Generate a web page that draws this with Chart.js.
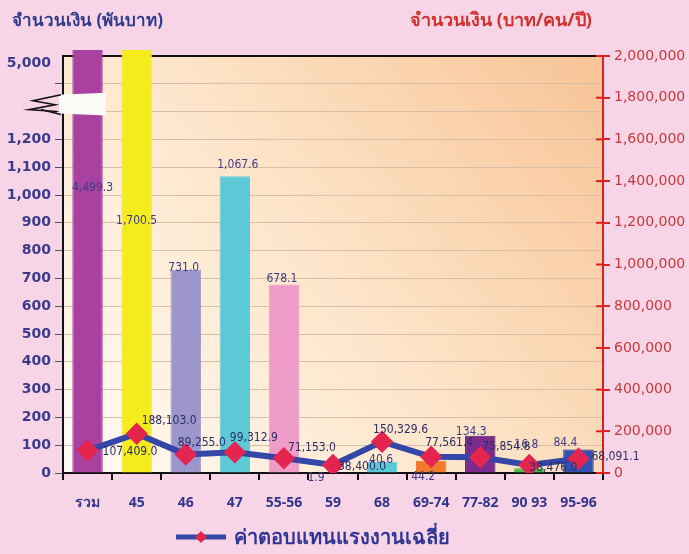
<!DOCTYPE html>
<html>
<head>
<meta charset="utf-8">
<script src="https://cdn.jsdelivr.net/npm/chart.js@4"></script>
<style>
  html, body { margin: 0; padding: 0; background: #f8d5e6; }
  #wrap { width: 689px; height: 554px; }
</style>
</head>
<body>
<div id="wrap"><canvas id="myChart" width="689" height="554"></canvas></div>
<script>
// ข้อมูล
const categories = ["รวม", "45", "46", "47", "55-56", "59", "68", "69-74", "77-82", "90 93", "95-96"];
const amountThousandBaht = [4499.3, 1700.5, 731.0, 1067.6, 678.1, 1.9, 40.6, 44.2, 134.3, 16.8, 84.4];
const avgWagePerPerson = [107409.0, 188103.0, 89255.0, 99312.9, 71153.0, 38400.0, 150329.6, 77561.4, 75854.8, 38476.0, 68091.1];
const leftTicks = [0, 100, 200, 300, 400, 500, 600, 700, 800, 900, 1000, 1100, 1200];
const leftTopTickLabel = "5,000";
const rightTicks = [0, 200000, 400000, 600000, 800000, 1000000, 1200000, 1400000, 1600000, 1800000, 2000000];

const barColors = ["#a8419f", "#f4ec1c", "#9d96cd", "#5ccad6", "#ef9cc8", "#e0e0e0", "#5ccad6", "#f27a2c", "#7b2c8e", "#4cb84a", "#3152b2"];
const barBorders = ["#a8419f", "#f4ec1c", "#9d96cd", "#5ccad6", "#ef9cc8", "#e0e0e0", "#5ccad6", "#f27a2c", "#4a1f66", "#4cb84a", "#1f2f7a"];

// axis break: anything above 1,400 is drawn up to the top of the (broken) axis
const BREAK_AT = 1400;
const TOP_SLOT = 1475;
const barDrawValues = amountThousandBaht.map(v => v > BREAK_AT ? 1522 : v);

// label offsets (style only)
const barLabelOffsets = [[5, 138], [0, 171], [-2, -2], [3, -11], [-2, -6], [-17, 5], [-1, -2], [-8, 16], [-9, -4], [-3, -23], [-13, -7]];
const lineLabelOffsets = [[15, 1], [5, -13], [-8, -12], [-5, -14], [4, -10], [5, 2], [-9, -12], [-6, -14], [2, -10], [0, 3], [13, -2]];

const fmt1 = v => v.toLocaleString("en-US", { minimumFractionDigits: 1, maximumFractionDigits: 1 });

const decor = {
  id: "decor",
  beforeDraw(chart) {
    const { ctx, chartArea: a } = chart;
    const g = ctx.createLinearGradient(a.left, a.bottom, a.right, a.top);
    g.addColorStop(0, "#fffcf4");
    g.addColorStop(0.5, "#fde4c8");
    g.addColorStop(1, "#f8c496");
    ctx.save();
    ctx.fillStyle = g;
    ctx.fillRect(a.left, a.top, a.right - a.left, a.bottom - a.top);
    ctx.restore();
  },
  beforeDatasetsDraw(chart) {
    const { ctx, chartArea: a } = chart;
    ctx.save();
    ctx.strokeStyle = "#111";
    ctx.lineWidth = 2;
    ctx.beginPath();
    ctx.moveTo(a.left, a.top);
    ctx.lineTo(a.right, a.top);
    ctx.stroke();
    ctx.restore();
  },
  afterDatasetsDraw(chart) {
    const { ctx, chartArea: a } = chart;
    const yL = chart.scales.y;
    const yR = chart.scales.y1;
    const bars = chart.getDatasetMeta(1).data;
    const pts = chart.getDatasetMeta(0).data;

    // break band on the first bar
    const y1 = yL.getPixelForValue(1368), y2 = yL.getPixelForValue(1286);
    const b0 = bars[0];
    ctx.save();
    ctx.fillStyle = "#fbfaf6";
    ctx.beginPath();
    ctx.moveTo(a.left - 4, y1 + 2);
    ctx.lineTo(b0.x + b0.width / 2 + 3, y1);
    ctx.lineTo(b0.x + b0.width / 2 + 3, y2);
    ctx.lineTo(a.left - 4, y2 - 2);
    ctx.closePath();
    ctx.fill();
    ctx.strokeStyle = "#111";
    ctx.lineWidth = 1.6;
    ctx.beginPath();
    ctx.moveTo(a.left - 2, y1 + 2);
    ctx.lineTo(a.left - 30, y1 + 8);
    ctx.lineTo(a.left - 8, y1 + 12);
    ctx.lineTo(a.left - 34, y1 + 17);
    ctx.lineTo(a.left - 6, y2 - 4);
    ctx.stroke();
    ctx.beginPath();
    ctx.moveTo(a.left - 2, y2 - 1);
    ctx.lineTo(a.left - 22, y2 - 6);
    ctx.stroke();

    // right axis ticks reaching into the plot
    ctx.strokeStyle = "#e02020";
    ctx.lineWidth = 2;
    rightTicks.forEach(t => {
      const y = yR.getPixelForValue(t);
      ctx.beginPath();
      ctx.moveTo(a.right - 7, y);
      ctx.lineTo(a.right, y);
      ctx.stroke();
    });

    // bar labels
    ctx.font = "12px 'DejaVu Sans Condensed', 'DejaVu Sans', sans-serif";
    ctx.fillStyle = "#3f3a86";
    ctx.textAlign = "center";
    ctx.textBaseline = "middle";
    bars.forEach((b, i) => {
      const [dx, dy] = barLabelOffsets[i];
      ctx.fillText(fmt1(amountThousandBaht[i]), b.x + dx, b.y + dy);
    });

    // line labels
    ctx.font = "12px 'Liberation Sans Narrow', 'DejaVu Sans Condensed', sans-serif";
    ctx.fillStyle = "#2c2c66";
    ctx.textAlign = "left";
    pts.forEach((p, i) => {
      const [dx, dy] = lineLabelOffsets[i];
      ctx.fillText(fmt1(avgWagePerPerson[i]), p.x + dx, p.y + dy);
    });
    ctx.restore();
  },
  afterDraw(chart) {
    const { ctx } = chart;
    ctx.save();
    ctx.textBaseline = "middle";
    ctx.textAlign = "left";
    ctx.font = "bold 17px 'Noto Sans', 'DejaVu Sans', sans-serif";
    ctx.fillStyle = "#2f3a8e";
    ctx.fillText("จำนวนเงิน (พันบาท)", 12, 21);
    ctx.font = "bold 18px 'Noto Sans', 'DejaVu Sans', sans-serif";
    ctx.fillStyle = "#d0302e";
    ctx.fillText("จำนวนเงิน (บาท/คน/ปี)", 410, 21);

    // legend
    ctx.strokeStyle = "#3446a8";
    ctx.lineWidth = 5;
    ctx.beginPath();
    ctx.moveTo(176, 537);
    ctx.lineTo(226, 537);
    ctx.stroke();
    ctx.fillStyle = "#e4254f";
    ctx.beginPath();
    ctx.moveTo(201, 531);
    ctx.lineTo(207, 537);
    ctx.lineTo(201, 543);
    ctx.lineTo(195, 537);
    ctx.closePath();
    ctx.fill();
    ctx.font = "bold 20px 'Noto Sans', 'DejaVu Sans', sans-serif";
    ctx.fillStyle = "#2f3592";
    ctx.fillText("ค่าตอบแทนแรงงานเฉลี่ย", 234, 538);
    ctx.restore();
  }
};

const ctx = document.getElementById("myChart").getContext("2d");
const myChart = new Chart(ctx, {
  type: "bar",
  data: {
    labels: categories,
    datasets: [
      {
        type: "line",
        label: "ค่าตอบแทนแรงงานเฉลี่ย",
        data: avgWagePerPerson,
        yAxisID: "y1",
        borderColor: "#3446a8",
        borderWidth: 6,
        pointStyle: "rectRot",
        pointRadius: 7,
        pointBackgroundColor: "#e4254f",
        pointBorderColor: "#e4254f",
        tension: 0,
        order: 0
      },
      {
        label: "จำนวนเงิน (พันบาท)",
        data: barDrawValues,
        yAxisID: "y",
        backgroundColor: barColors,
        borderColor: barBorders,
        borderWidth: 1,
        barPercentage: 0.62,
        categoryPercentage: 1,
        clip: 10,
        order: 1
      }
    ]
  },
  options: {
    responsive: false,
    animation: false,
    layout: { padding: { top: 56, left: 0, right: 0, bottom: 0 } },
    plugins: { legend: { display: false }, tooltip: { enabled: false } },
    scales: {
      x: {
        grid: { drawOnChartArea: false, offset: true, color: "#111", tickLength: 7, lineWidth: 2 },
        border: { color: "#111", width: 2 },
        ticks: { color: "#33358a", font: { family: "'Noto Sans', 'DejaVu Sans', sans-serif", size: 14, weight: "bold" }, padding: 15 },
        afterFit: s => { s.height = 81; }
      },
      y: {
        position: "left",
        min: 0,
        max: 1500,
        afterBuildTicks: s => {
          s.ticks = leftTicks.concat([1300, 1400, TOP_SLOT]).map(v => ({ value: v }));
        },
        grid: {
          color: c => (c.tick && c.tick.value === TOP_SLOT) ? "rgba(0,0,0,0)" : "#d8bfa5",
          tickColor: c => (c.tick && c.tick.value === TOP_SLOT) ? "rgba(0,0,0,0)" : "#555",
          tickLength: 8
        },
        border: { color: "#111", width: 2 },
        ticks: {
          color: "#3b3b8c",
          font: { family: "'DejaVu Sans', sans-serif", size: 14, weight: "bold" },
          padding: 4,
          callback: v => v === TOP_SLOT ? leftTopTickLabel : (v <= 1200 ? v.toLocaleString("en-US") : "")
        },
        afterFit: s => { s.width = 63; }
      },
      y1: {
        position: "right",
        min: 0,
        max: 2000000,
        afterBuildTicks: s => { s.ticks = rightTicks.map(v => ({ value: v })); },
        grid: { drawOnChartArea: false, tickColor: "#e02020", tickLength: 7, lineWidth: 2 },
        border: { color: "#e02020", width: 2 },
        ticks: {
          color: "#c8393b",
          font: { family: "'DejaVu Sans', sans-serif", size: 14 },
          padding: 4,
          callback: v => v.toLocaleString("en-US")
        },
        afterFit: s => { s.width = 86; }
      }
    }
  },
  plugins: [decor]
});
</script>
</body>
</html>
